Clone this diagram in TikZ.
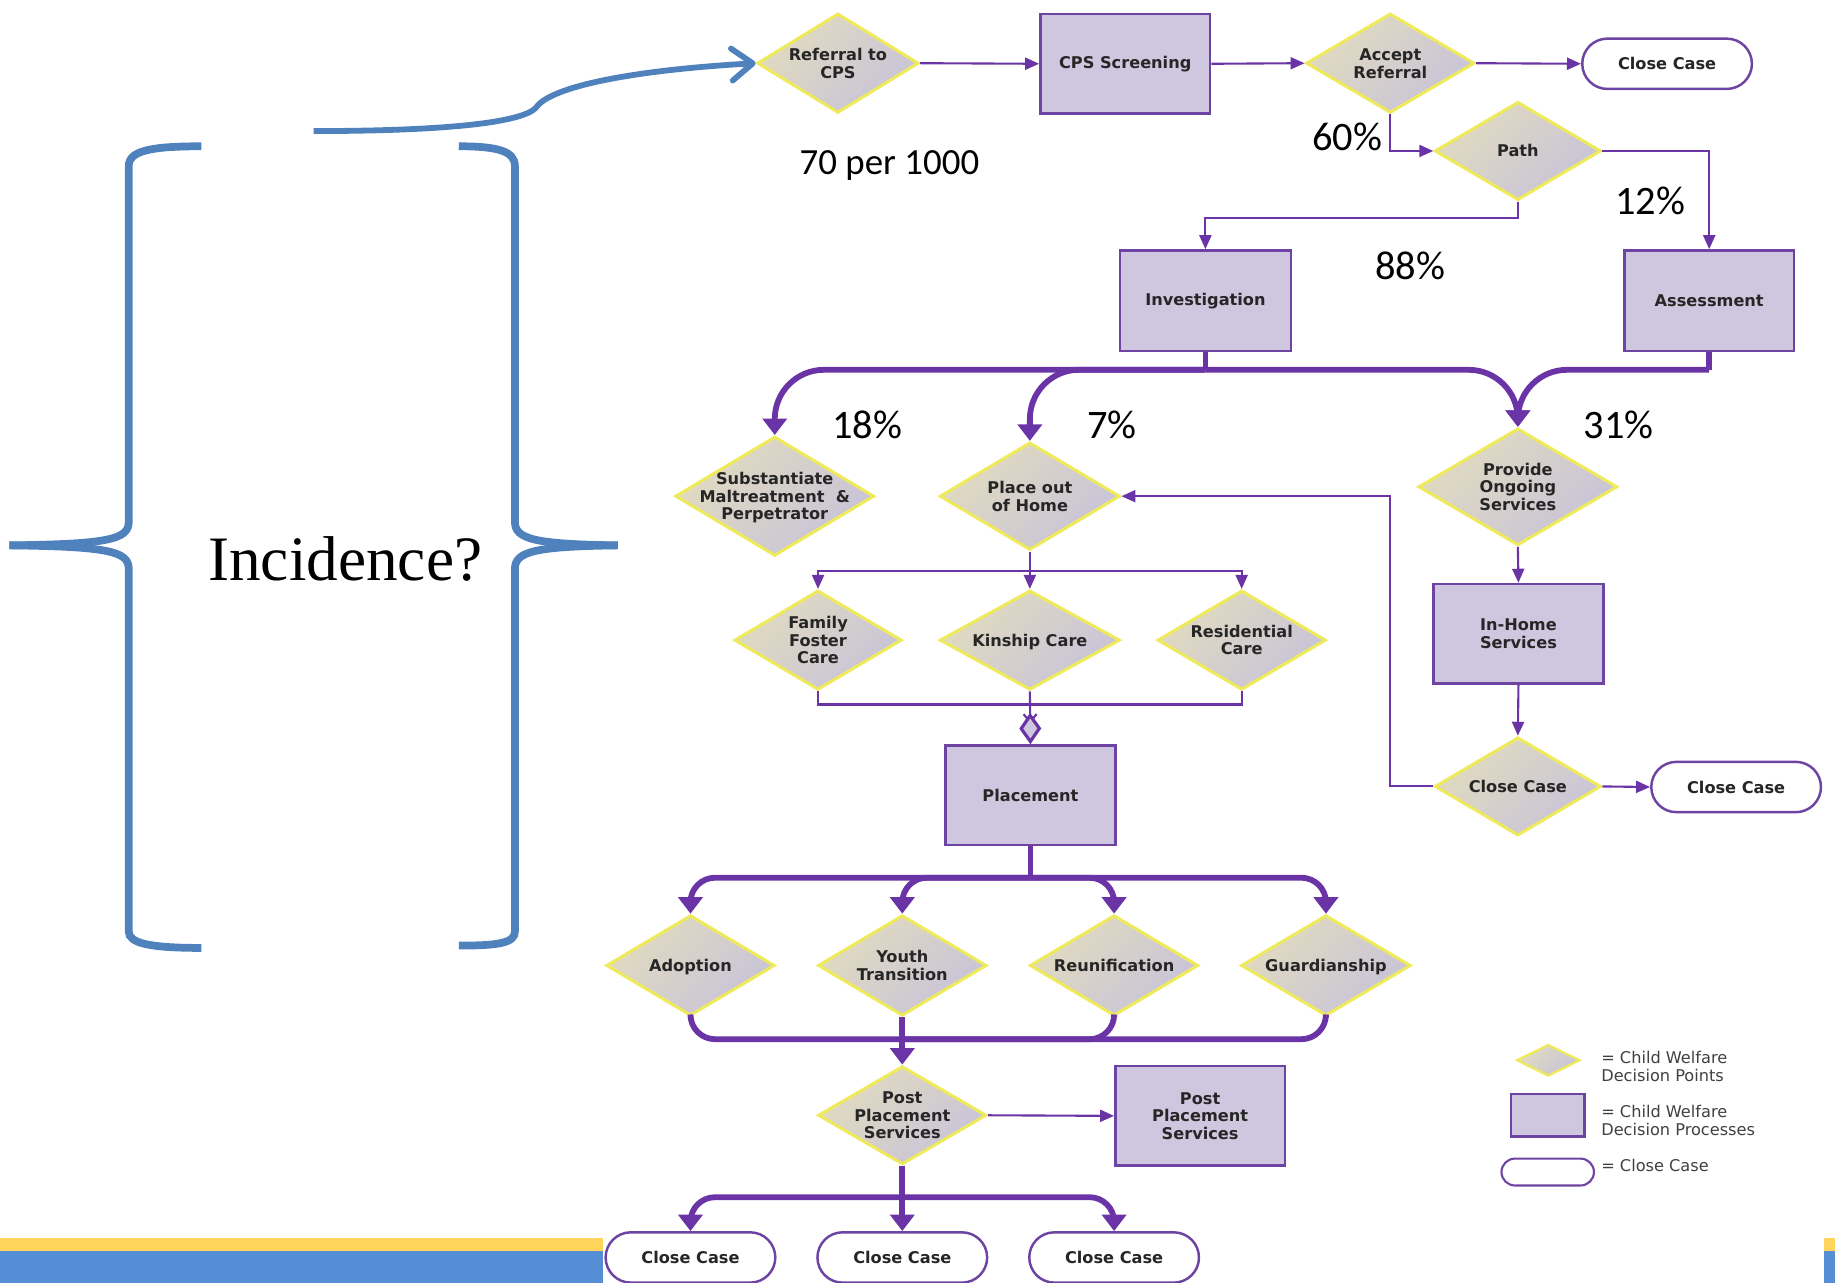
\documentclass[tikz,border=0pt]{standalone}
\usepackage{fontspec}
\usetikzlibrary{shapes.geometric,shapes.misc,arrows.meta,positioning,calc}

\newfontfamily\chartfont{DejaVu Sans}
\newfontfamily\pctfont{Carlito}
\newfontfamily\incfont{Liberation Serif}

\definecolor{CWPurple}{HTML}{6B34A6}
\definecolor{CWBoxLine}{HTML}{6E44A2}
\definecolor{CWBoxFill}{HTML}{CFC6DF}
\definecolor{CWYellow}{HTML}{EFEA5A}
\definecolor{CWDiaTop}{HTML}{E1DBC0}
\definecolor{CWDiaBot}{HTML}{C8C3D9}
\definecolor{CWText}{HTML}{262626}
\definecolor{CWLegend}{HTML}{404040}
\definecolor{SlideBlue}{HTML}{4F81BD}
\definecolor{BarBlue}{HTML}{558ED5}
\definecolor{BarYellow}{HTML}{FFD55C}

% one pixel of the slide
\newcommand{\pxu}{0.23406mm}
% text that does not widen a diamond
\newcommand{\dtext}[1]{\smash{\makebox[0pt]{\raisebox{-0.4em}{\begin{tabular}{@{}c@{}}#1\end{tabular}}}}}

\tikzset{
    % Decision point (diamond)
    decision/.style={
        diamond,
        draw=CWYellow,
        line width=1.7pt,
        top color=CWDiaTop,
        bottom color=CWDiaBot,
        shading angle=45,
        inner sep=0pt,
        minimum width=144*\pxu,
        minimum height=85*\pxu,
        text=CWText,
        font=\chartfont\bfseries\fontsize{9.2}{10}\selectfont
    },
    % Decision process (box)
    process/.style={
        rectangle,
        draw=CWBoxLine,
        line width=1.4pt,
        fill=CWBoxFill,
        inner sep=0pt,
        minimum width=145*\pxu,
        minimum height=85*\pxu,
        align=center,
        text=CWText,
        font=\chartfont\bfseries\fontsize{9.2}{10}\selectfont
    },
    % Close case (terminal)
    closecase/.style={
        rounded rectangle,
        draw=CWBoxLine,
        line width=1.4pt,
        fill=white,
        inner sep=0pt,
        minimum width=145*\pxu,
        minimum height=43*\pxu,
        text=CWText,
        font=\chartfont\bfseries\fontsize{9.2}{10}\selectfont
    },
    % Thin flow lines
    flow/.style={
        draw=CWPurple,
        line width=1.2pt
    },
    flowarrow/.style={
        flow,
        -{Triangle[length=2.8mm,width=2.4mm]}
    },
    % Thick flow lines
    bigflow/.style={
        draw=CWPurple,
        line width=3.3pt
    },
    bigarrow/.style={
        bigflow,
        -{Triangle[length=3.3mm,width=4.8mm]}
    },
    % Percent labels
    pct/.style={
        font=\pctfont\fontsize{23}{26}\selectfont
    },
    rate/.style={
        font=\pctfont\fontsize{21}{24}\selectfont
    },
    % Legend texts
    legendtext/.style={
        align=left,
        text=CWLegend,
        inner sep=0pt,
        font=\chartfont\fontsize{9.2}{10.3}\selectfont
    },
    % Blue brackets and arrow
    bracket/.style={
        draw=SlideBlue,
        line width=4.4pt
    },
    bluearrow/.style={
        draw=SlideBlue,
        line width=3.3pt,
        -{Straight Barb[length=4.2mm,width=6.4mm,round]}
    }
}

\begin{document}
\begin{tikzpicture}[x=\pxu, y=-\pxu]
    \useasboundingbox (0,0) rectangle (1568,1096);

    % footer bars
    \fill[BarYellow] (0,1058) rectangle (515,1069);
    \fill[BarBlue] (0,1069) rectangle (515,1096);
    \fill[BarYellow] (1559,1058) rectangle (1568,1069);
    \fill[BarBlue] (1559,1069) rectangle (1568,1096);

    % brackets round the question
    \draw[bracket] (172,125) .. controls (128,125) and (110,129) .. (110,142) -- (110,446)
        .. controls (110,461) and (92,465) .. (8,466);
    \draw[bracket] (8,466) .. controls (92,467) and (110,471) .. (110,486) -- (110,796)
        .. controls (110,806) and (128,810) .. (172,810);
    \draw[bracket] (392,125) .. controls (425,125) and (440,129) .. (440,142) -- (440,446)
        .. controls (440,461) and (458,465) .. (528,466);
    \draw[bracket] (528,466) .. controls (458,467) and (440,471) .. (440,486) -- (440,796)
        .. controls (440,806) and (425,808) .. (392,808);
    \node[font=\incfont\fontsize{36}{40}\selectfont] (inc) at (295,478) {Incidence?};
    \coordinate (incFrom) at (268,112);

    % top row
    \node[decision, minimum width=138*\pxu] (ref) at (716,54) {\dtext{Referral to\\CPS}};
    \node[process] (cps) at (961.5,54.5) {CPS Screening};
    \node[decision] (accept) at (1188,54) {\dtext{Accept\\Referral}};
    \node[closecase] (close1) at (1424.5,54.5) {Close Case};
    \node[decision, minimum width=142*\pxu, minimum height=84*\pxu] (path) at (1297,129) {\dtext{Path}};

    \node[process, minimum width=146*\pxu, minimum height=86*\pxu] (inv) at (1030,257) {Investigation};
    \node[process, minimum height=86*\pxu] (asmt) at (1460.5,257) {Assessment};

    % third row
    \node[decision, minimum width=170*\pxu, minimum height=102*\pxu] (subst) at (662,424) {\dtext{Substantiate\\Maltreatment~ \&\\Perpetrator}};
    \node[decision, minimum width=154*\pxu, minimum height=92*\pxu] (place) at (880,424) {\dtext{Place out\\of Home}};
    \node[decision, minimum width=170*\pxu, minimum height=100*\pxu] (ongoing) at (1297,416) {\dtext{Provide\\Ongoing\\Services}};

    % out of home care
    \node[decision, minimum width=143*\pxu] (foster) at (699,547) {\dtext{Family\\Foster\\Care}};
    \node[decision, minimum width=154*\pxu] (kin) at (880,547) {\dtext{Kinship Care}};
    \node[decision] (resid) at (1061,547) {\dtext{Residential\\Care}};
    \node[process] (inhome) at (1297.5,541.5) {In-Home\\Services};
    \node[decision, minimum width=142*\pxu, minimum height=84*\pxu] (closeD) at (1297,672) {\dtext{Close Case}};
    \node[closecase] (close2) at (1483.5,672.5) {Close Case};
    \node[process] (placement) at (880.5,679.5) {Placement};

    % permanency
    \node[decision, minimum height=86*\pxu] (adopt) at (590,825) {\dtext{Adoption}};
    \node[decision, minimum height=86*\pxu] (youth) at (771,825) {\dtext{Youth\\Transition}};
    \node[decision, minimum height=86*\pxu] (reunif) at (952,825) {\dtext{Reunification}};
    \node[decision, minimum width=145*\pxu, minimum height=86*\pxu] (guard) at (1133,825) {\dtext{Guardianship}};
    \node[decision, minimum height=84*\pxu] (post) at (771,953) {\dtext{Post\\Placement\\Services}};
    \node[process] (postbox) at (1025.5,953.5) {Post\\Placement\\Services};
    \node[closecase] (closeA) at (590,1074.5) {Close Case};
    \node[closecase] (closeB) at (771,1074.5) {Close Case};
    \node[closecase] (closeC) at (952,1074.5) {Close Case};

    % rates
    \node[rate] (rate) at (760,141) {70 per 1000};
    \node[pct] (p60) at (1151,117) {60\%};
    \node[pct] (p12) at (1410,172) {12\%};
    \node[pct] (p88) at (1205,227) {88\%};
    \node[pct] (p18) at (741,363) {18\%};
    \node[pct] (p7) at (950,363) {7\%};
    \node[pct] (p31) at (1383,363) {31\%};

    % legend
    \node[decision, minimum width=54*\pxu, minimum height=27*\pxu, line width=1.3pt] (legD) at (1323,906) {};
    \node[process, minimum width=63*\pxu, minimum height=36*\pxu] (legP) at (1322.5,953) {};
    \node[closecase, minimum width=79*\pxu, minimum height=23*\pxu, line width=1.2pt] (legC) at (1322.5,1001.5) {};
    \node[legendtext, anchor=west] (legDt) at (1368,911.5) {= Child Welfare\\Decision Points};
    \node[legendtext, anchor=west] (legPt) at (1368,957.5) {= Child Welfare\\Decision Processes};
    \node[legendtext, anchor=west] (legCt) at (1368,996) {= Close Case};

    % junctions
    \coordinate (jInv) at (1030,316);
    \coordinate (jAsm) at (1460.5,316);
    \coordinate (jPlace) at (880,488);
    \coordinate (jKin) at (880,602);
    \coordinate (jPerm) at (880.5,750);
    \coordinate (jPost) at (771,888);
    \coordinate (jClose) at (771,1023);

    % blue arrow into the referral
    \draw[bluearrow] (incFrom) .. controls (370,112) and (445,106) .. (458,92)
        .. controls (470,74) and (540,60) .. (ref.west);

    % thin flows
    \draw[flowarrow] (ref.east) -- (cps.west);
    \draw[flowarrow] (cps.east) -- (accept.west);
    \draw[flowarrow] (accept.east) -- (close1.west);
    \draw[flowarrow] (accept.south) |- (path.west);
    \draw[flowarrow] (path.east) -| (asmt.north);
    \draw[flowarrow] (path.south) -- ++(0,14) -| (inv.north);
    \draw[flowarrow] (ongoing.south) -- (inhome.north);
    \draw[flowarrow] (inhome.south) -- (closeD.north);
    \draw[flowarrow] (closeD.east) -- (close2.west);
    \draw[flowarrow] (closeD.west) -- ++(-37,0) |- (place.east);
    \draw[flowarrow] (place.south) -- (kin.north);
    \draw[flowarrow] (jPlace) -| (foster.north);
    \draw[flowarrow] (jPlace) -| (resid.north);
    \draw[flow] (foster.south) |- (jKin);
    \draw[flow] (resid.south) |- (jKin);
    \draw[flow, -{Straight Barb[length=1.6mm,width=2.6mm,line width=1.2pt,sep=-2.2mm]Diamond[length=6.3mm,width=4.4mm,fill=CWBoxFill,line width=1.8pt]}] (kin.south) -- (placement.north);
    \draw[flowarrow] (post.east) -- (postbox.west);

    % thick flows
    \draw[bigflow] (inv.south) -- (jInv);
    \draw[bigflow] (asmt.south) -- (jAsm);
    \draw[bigarrow, rounded corners=28] (jInv) -| (subst.north);
    \draw[bigarrow, rounded corners=28] (jInv) -| (place.north);
    \draw[bigarrow, rounded corners=28] (jInv) -| (ongoing.north);
    \draw[bigarrow, rounded corners=28] (jAsm) -| (ongoing.north);

    \draw[bigflow] (placement.south) -- (jPerm);
    \draw[bigarrow, rounded corners=14] (jPerm) -| (adopt.north);
    \draw[bigarrow, rounded corners=14] (jPerm) -| (youth.north);
    \draw[bigarrow, rounded corners=14] (jPerm) -| (reunif.north);
    \draw[bigarrow, rounded corners=14] (jPerm) -| (guard.north);

    \draw[bigflow, rounded corners=14] (adopt.south) |- (jPost);
    \draw[bigflow, rounded corners=14] (reunif.south) |- (jPost);
    \draw[bigflow, rounded corners=14] (guard.south) |- (jPost);
    \draw[bigarrow] (youth.south) -- (post.north);

    \draw[bigflow] (post.south) -- (jClose);
    \draw[bigarrow, rounded corners=14] (jClose) -| (closeA.north);
    \draw[bigarrow] (post.south) -- (closeB.north);
    \draw[bigarrow, rounded corners=14] (jClose) -| (closeC.north);
\end{tikzpicture}
\end{document}
